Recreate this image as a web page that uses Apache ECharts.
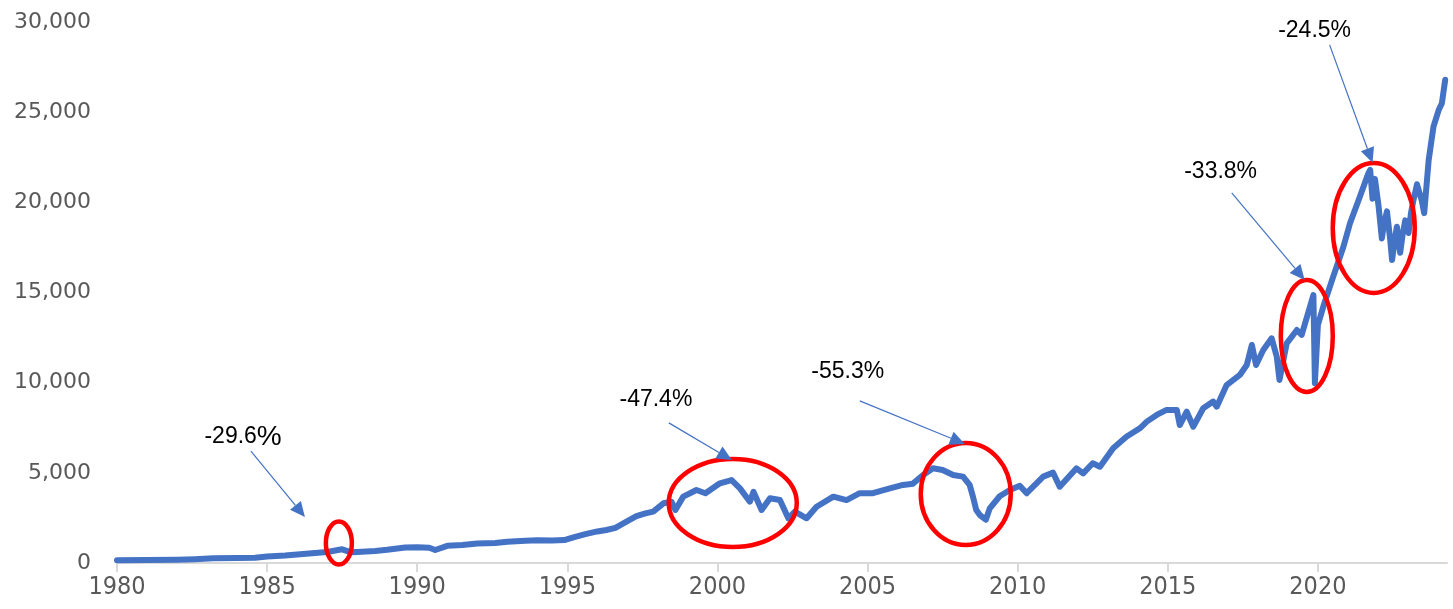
<!DOCTYPE html>
<html>
<head>
<meta charset="utf-8">
<script src="https://cdn.jsdelivr.net/npm/echarts@6/dist/echarts.min.js"></script>
<style>
html,body{margin:0;padding:0;background:#fff;}
#chart{width:1453px;height:609px;}
</style>
</head>
<body>
<div id="chart"></div>
<script>
// ---- data ----
const years = [
  1980.0, 1981.0, 1982.0, 1982.6, 1983.2, 1984.0, 1984.6, 1985.0, 1985.6, 1986.1,
  1986.6, 1987.0, 1987.5, 1987.8, 1988.0, 1988.6, 1989.0, 1989.6, 1990.0, 1990.4,
  1990.6, 1991.0, 1991.5, 1992.0, 1992.6, 1993.0, 1993.6, 1994.0, 1994.5, 1994.9,
  1995.2, 1995.6, 1996.0, 1996.3, 1996.6, 1996.97, 1997.3, 1997.6, 1997.86, 1998.2,
  1998.47, 1998.6, 1998.86, 1999.3, 1999.6, 2000.08, 2000.47, 2000.75, 2001.08, 2001.2,
  2001.47, 2001.75, 2002.08, 2002.36, 2002.58, 2002.97, 2003.3, 2003.86, 2004.3, 2004.74,
  2005.18, 2005.74, 2006.18, 2006.51, 2006.85, 2007.18, 2007.5, 2007.85, 2008.18, 2008.4,
  2008.51, 2008.62, 2008.74, 2008.94, 2009.07, 2009.4, 2009.74, 2010.07, 2010.3, 2010.85,
  2011.18, 2011.4, 2011.96, 2012.18, 2012.5, 2012.74, 2013.18, 2013.62, 2014.07, 2014.3,
  2014.63, 2014.96, 2015.3, 2015.4, 2015.63, 2015.85, 2016.18, 2016.51, 2016.63, 2016.96,
  2017.4, 2017.63, 2017.8, 2017.94, 2018.18, 2018.46, 2018.63, 2018.72, 2018.96, 2019.3,
  2019.46, 2019.85, 2019.9, 2020.0, 2020.18, 2020.51, 2020.85, 2021.07, 2021.4, 2021.68,
  2021.74, 2021.82, 2021.9, 2022.02, 2022.13, 2022.2, 2022.3, 2022.41, 2022.47, 2022.55,
  2022.63, 2022.74, 2022.82, 2022.91, 2023.02, 2023.1, 2023.18, 2023.3, 2023.46, 2023.54,
  2023.69, 2023.85, 2024.02, 2024.13, 2024.24
];
const values = [
  150, 165, 180, 210, 260, 275, 290, 360, 410, 490,
  550, 610, 760, 590, 610, 670, 730, 860, 880, 850,
  720, 950, 1000, 1080, 1110, 1180, 1240, 1260, 1250, 1270,
  1420, 1600, 1750, 1830, 1950, 2290, 2600, 2750, 2850, 3310,
  3400, 2940, 3680, 4050, 3870, 4420, 4600, 4140, 3400, 3950,
  2940, 3590, 3490, 2480, 2850, 2480, 3120, 3680, 3490, 3870,
  3870, 4140, 4330, 4400, 4880, 5250, 5160, 4880, 4790, 4330,
  3680, 2940, 2660, 2400, 3030, 3700, 4050, 4280, 3870, 4790,
  5010, 4230, 5250, 4970, 5530, 5340, 6360, 7000, 7470, 7840,
  8210, 8490, 8490, 7650, 8390, 7560, 8580, 8950, 8670, 9870,
  10430, 10980, 12090, 10980, 11810, 12460, 11440, 10150, 12180, 12920,
  12650, 14860, 9970, 13200, 14220, 15880, 17540, 18840, 20320, 21610,
  21800, 20200, 21300, 19800, 18000, 18800, 19500, 17900, 16800, 17800,
  18650, 17200, 18200, 19000, 18300, 19400, 20100, 21000, 20100, 19400,
  22350, 24200, 25100, 25500, 26800
];
const xTickYears = [1980, 1985, 1990, 1995, 2000, 2005, 2010, 2015, 2020];
const yTicks = [0, 5000, 10000, 15000, 20000, 25000, 30000];

// drawdown annotations (labels and where they point, in data units)
const ddLabels = ['-29.6', '-47.4', '-55.3', '-33.8', '-24.5'];
const ddBigPct = [true, false, false, false, false];
const ddLabelAt = [[1984.2, 6990], [1997.95, 9040], [2004.34, 10590], [2016.76, 21690], [2019.89, 29510]];
const ddArrowFrom = [[1984.46, 6210], [1998.38, 7770], [2004.74, 8990], [2017.13, 20520], [2020.39, 28730]];
const ddArrowTo = [[1986.26, 2550], [2000.48, 5710], [2008.24, 6600], [2019.56, 15700], [2021.82, 22190]];
const ddCircleAt = [[1987.39, 1110], [2000.51, 3330], [2008.27, 3830], [2019.63, 12590], [2021.86, 18580]];
const ddCircleR = [[13, 21.5], [64, 44], [45, 51], [26, 56], [41, 65]];

const chart = echarts.init(document.getElementById('chart'), null, {renderer: 'canvas'});
const seriesData = years.map((y, i) => [y, values[i]]);

chart.setOption({
  animation: false,
  backgroundColor: '#ffffff',
  grid: {left: 117, right: 6, top: 22, bottom: 46, containLabel: false},
  xAxis: {
    type: 'value', min: 1980, max: 2024.3, interval: 5,
    axisLine: {show: true, lineStyle: {color: '#d9d9d9', width: 2}},
    axisTick: {show: true, length: 9, lineStyle: {color: '#d9d9d9', width: 2}, customValues: xTickYears},
    axisLabel: {
      customValues: xTickYears,
      formatter: v => String(Math.round(v)),
      color: '#595959', fontSize: 25, fontFamily: '"DejaVu Sans Condensed", "Liberation Sans Narrow", "DejaVu Sans", sans-serif',
      margin: 12
    },
    splitLine: {show: false}
  },
  yAxis: {
    type: 'value', min: 0, max: 30000, interval: 5000,
    axisLine: {show: false}, axisTick: {show: false},
    axisLabel: {
      customValues: yTicks,
      formatter: v => v.toLocaleString('en-US'),
      color: '#595959', fontSize: 22, fontFamily: '"DejaVu Sans", sans-serif', margin: 26
    },
    splitLine: {show: false}
  },
  series: [{
    type: 'line', data: seriesData, showSymbol: false, symbol: 'none',
    lineStyle: {color: '#4472C4', width: 6, join: 'round', cap: 'round'},
    itemStyle: {color: '#4472C4'}
  }]
});

function px(p) { return chart.convertToPixel({gridIndex: 0}, p); }

const graphics = [];
for (let i = 0; i < ddLabels.length; i++) {
  const c = px(ddCircleAt[i]);
  graphics.push({
    type: 'ellipse', z: 100,
    shape: {cx: c[0], cy: c[1], rx: ddCircleR[i][0], ry: ddCircleR[i][1]},
    style: {fill: 'none', stroke: '#FF0000', lineWidth: 4.5}
  });
  const a = px(ddArrowFrom[i]), b = px(ddArrowTo[i]);
  const dx = b[0] - a[0], dy = b[1] - a[1];
  const len = Math.sqrt(dx * dx + dy * dy);
  const ux = dx / len, uy = dy / len;
  const headL = 15, headW = 7;
  const bx = b[0] - ux * headL, by = b[1] - uy * headL;
  graphics.push({
    type: 'line', z: 101,
    shape: {x1: a[0], y1: a[1], x2: bx, y2: by},
    style: {stroke: '#4472C4', lineWidth: 1.2}
  });
  graphics.push({
    type: 'polygon', z: 101,
    shape: {points: [[b[0], b[1]], [bx - uy * headW, by + ux * headW], [bx + uy * headW, by - ux * headW]]},
    style: {fill: '#4472C4', stroke: 'none'}
  });
  const t = px(ddLabelAt[i]);
  graphics.push({
    type: 'text', z: 102,
    x: t[0], y: t[1],
    style: {
      text: '{n|' + ddLabels[i] + '}{p|%}',
      rich: {
        n: {fontSize: 23, fontFamily: '"Liberation Sans", Arial, sans-serif', fill: '#000', color: '#000'},
        p: {fontSize: ddBigPct[i] ? 28 : 23, fontFamily: '"Liberation Sans", Arial, sans-serif', fill: '#000', color: '#000'}
      },
      fill: '#000000',
      align: 'center', verticalAlign: 'middle',
      textAlign: 'center', textVerticalAlign: 'middle'
    }
  });
}
chart.setOption({graphic: graphics});
</script>
</body>
</html>
